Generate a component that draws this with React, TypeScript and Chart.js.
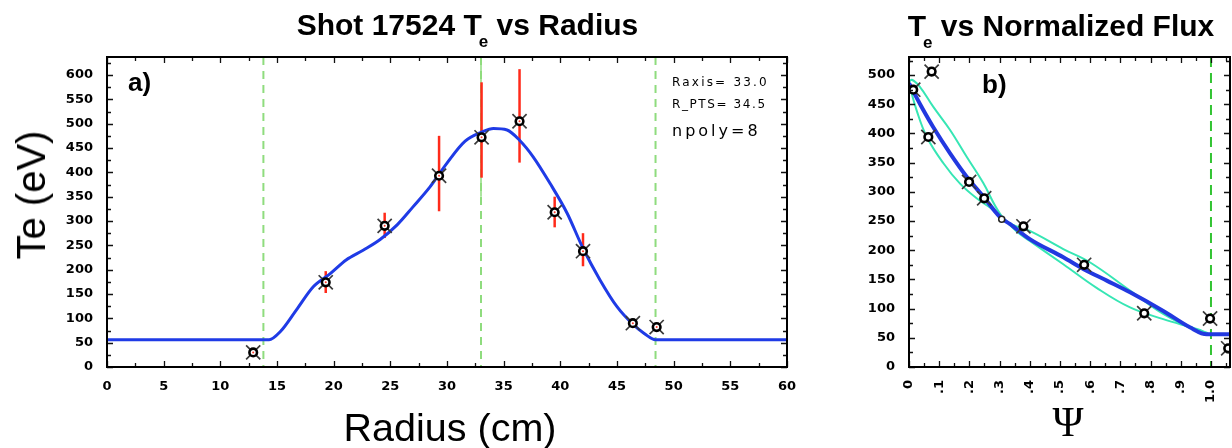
import React, { useEffect, useRef } from "react";
import { Chart, registerables } from "chart.js";

Chart.register(...registerables);

// ---- Panel a): Te vs radius ----
const radiusCm = [12.9, 19.3, 24.5, 29.3, 33.05, 36.4, 39.5, 42.0, 46.4, 48.5];
const teRadius = [30, 174, 290, 393, 472, 505, 318, 238, 90, 82];
const errPlus = [0, 23, 27, 82, 113, 107, 32, 37, 0, 0];
const errMinus = [0, 22, 25, 73, 83, 85, 31, 31, 0, 0];

// npoly=8 fit, sampled along the radius
const fitRadius = [0, 14.3, 15.3, 16.7, 18.2, 19.7, 21.1, 22.6, 24.1, 25.6, 27.0, 28.5, 30.0, 31.6, 33.1, 34.1, 35.3, 36.4, 37.6, 39.1, 40.6, 42.0, 43.5, 45.0, 46.4, 47.4, 48.4, 60];
const fitTeRadius = [56, 56, 73, 117, 165, 192, 220, 240, 262, 292, 329, 370, 419, 464, 483, 490, 487, 466, 432, 377, 316, 244, 179, 124, 88, 69, 56, 56];

const radiusMarkers = [13.8, 33.0, 48.4];
const radiusTicks = [0, 5, 10, 15, 20, 25, 30, 35, 40, 45, 50, 55, 60];
const teTicksA = [0, 50, 100, 150, 200, 250, 300, 350, 400, 450, 500, 550, 600];

// ---- Panel b): Te vs normalized flux ----
const psiPoints = [0.014, 0.064, 0.075, 0.199, 0.249, 0.379, 0.58, 0.779, 0.997, 1.057];
const tePsi = [475, 394, 506, 317, 289, 241, 175, 92, 83, 32];
const psiExtra = [0.307];
const teExtra = [253];

const fitPsi = [0, 0.04, 0.08, 0.136, 0.191, 0.246, 0.301, 0.334, 0.4, 0.511, 0.577, 0.655, 0.732, 0.842, 0.93, 0.986, 1.063];
const fitTePsi = [486, 447, 411, 366, 326, 292, 257, 245, 219, 188, 168, 148, 128, 96, 68, 56, 56];

const bandPsiA = [0, 0.009, 0.036, 0.08, 0.136, 0.191, 0.246, 0.301, 0.357, 0.4, 0.511, 0.62, 0.732, 0.842, 0.953, 0.99];
const bandTeA = [488, 492, 480, 446, 406, 360, 315, 263, 232, 216, 176, 136, 102, 82, 65, 58];
const bandPsiB = [0, 0.003, 0.025, 0.059, 0.114, 0.169, 0.224, 0.279, 0.334, 0.4, 0.511, 0.6, 0.732, 0.842, 0.953, 0.99];
const bandTeB = [488, 480, 440, 394, 349, 314, 289, 269, 246, 233, 202, 179, 131, 91, 62, 57];

const psiMarkers = [1.0];
const psiTicks = [0, 0.1, 0.2, 0.3, 0.4, 0.5, 0.6, 0.7, 0.8, 0.9, 1.0];
const psiTickLabels = ["0", ".1", ".2", ".3", ".4", ".5", ".6", ".7", ".8", ".9", "1.0"];
const teTicksB = [0, 50, 100, 150, 200, 250, 300, 350, 400, 450, 500];

const zip = (xs: number[], ys: number[]) => xs.map((x, i) => ({ x, y: ys[i] }));

const TICK_FONT = { family: "'DejaVu Sans', sans-serif", weight: "bold" as const, size: 13 };

function frameTicksPlugin(xStep: number, yStep: number) {
  return {
    id: "frameTicks",
    afterDraw(chart: any) {
      const { ctx, chartArea: a, scales } = chart;
      const xs = scales.x;
      const ys = scales.y;
      ctx.save();
      ctx.strokeStyle = "#111";
      ctx.lineWidth = 1.3;
      ctx.beginPath();
      const nx = Math.floor((xs.max + 1e-9) / xStep);
      for (let i = 0; i <= nx; i++) {
        const px = Math.round(xs.getPixelForValue(i * xStep)) + 0.5;
        const len = i % 2 === 0 ? 6 : 4;
        ctx.moveTo(px, a.bottom);
        ctx.lineTo(px, a.bottom - len);
        ctx.moveTo(px, a.top);
        ctx.lineTo(px, a.top + len);
      }
      const ny = Math.floor((ys.max + 1e-9) / yStep);
      for (let i = 0; i <= ny; i++) {
        const py = Math.round(ys.getPixelForValue(i * yStep)) + 0.5;
        const len = i % 2 === 0 ? 6 : 4;
        ctx.moveTo(a.left, py);
        ctx.lineTo(a.left + len, py);
        ctx.moveTo(a.right, py);
        ctx.lineTo(a.right - len, py);
      }
      ctx.stroke();
      ctx.lineWidth = 2;
      ctx.strokeStyle = "#000";
      ctx.strokeRect(a.left, a.top, a.right - a.left, a.bottom - a.top);
      ctx.restore();
    },
  };
}

function refLinesPlugin(values: number[], color: string, dash: number[], solidTopTo?: { x: number; y: number }) {
  return {
    id: "refLines",
    beforeDatasetsDraw(chart: any) {
      const { ctx, chartArea: a, scales } = chart;
      ctx.save();
      ctx.strokeStyle = color;
      ctx.lineWidth = 2;
      ctx.setLineDash(dash);
      values.forEach((v) => {
        const px = scales.x.getPixelForValue(v);
        ctx.beginPath();
        ctx.moveTo(px, a.top);
        ctx.lineTo(px, a.bottom);
        ctx.stroke();
      });
      if (solidTopTo) {
        ctx.setLineDash([]);
        ctx.lineWidth = 1.5;
        const px = scales.x.getPixelForValue(solidTopTo.x);
        ctx.beginPath();
        ctx.moveTo(px, a.top);
        ctx.lineTo(px, scales.y.getPixelForValue(solidTopTo.y));
        ctx.stroke();
      }
      ctx.restore();
    },
  };
}

const errorBarsPlugin = {
  id: "errorBars",
  beforeDatasetsDraw(chart: any) {
    const { ctx, scales } = chart;
    ctx.save();
    ctx.strokeStyle = "#ff2a1a";
    ctx.lineWidth = 2.5;
    radiusCm.forEach((r, i) => {
      if (!errPlus[i] && !errMinus[i]) return;
      const px = scales.x.getPixelForValue(r);
      ctx.beginPath();
      ctx.moveTo(px, scales.y.getPixelForValue(teRadius[i] + errPlus[i]));
      ctx.lineTo(px, scales.y.getPixelForValue(teRadius[i] - errMinus[i]));
      ctx.stroke();
    });
    ctx.restore();
  },
};

function markerDatasets(points: { x: number; y: number }[], dotColor: string) {
  return [
    {
      data: points,
      showLine: false,
      pointStyle: "circle",
      pointRadius: 3.8,
      pointBorderWidth: 2.6,
      pointBorderColor: "#000",
      pointBackgroundColor: "#fff",
      order: 0,
    },
    {
      data: points,
      showLine: false,
      pointStyle: "circle",
      pointRadius: 1,
      pointBorderWidth: 0,
      pointBackgroundColor: dotColor,
      order: -1,
    },
    {
      data: points,
      showLine: false,
      pointStyle: "crossRot",
      pointRadius: 10,
      pointBorderWidth: 1.7,
      pointBorderColor: "#3a3a3a",
      order: 1,
    },
  ];
}

function baseScales(opts: {
  xMin: number; xMax: number; yMax: number; xTicks: number[]; yTicks: number[];
  xHeight: number; yWidth: number; rotate: boolean; xLabels?: string[];
}) {
  return {
    x: {
      type: "linear" as const,
      min: opts.xMin,
      max: opts.xMax,
      afterBuildTicks: (s: any) => { s.ticks = opts.xTicks.map((v) => ({ value: v })); },
      afterFit: (s: any) => {
        s.height = opts.xHeight;
        s.paddingLeft = 0;
        s.paddingRight = 0;
      },
      grid: { display: false, drawTicks: false },
      border: { display: false },
      ticks: {
        font: TICK_FONT,
        color: "#000",
        padding: opts.rotate ? 13 : 12,
        autoSkip: false,
        minRotation: opts.rotate ? 90 : 0,
        maxRotation: opts.rotate ? 90 : 0,
        callback: (v: any, i: number) => (opts.xLabels ? opts.xLabels[i] : String(v)),
      },
    },
    y: {
      type: "linear" as const,
      min: 0,
      max: opts.yMax,
      afterBuildTicks: (s: any) => { s.ticks = opts.yTicks.map((v) => ({ value: v })); },
      afterFit: (s: any) => {
        s.width = opts.yWidth;
        s.paddingTop = 0;
        s.paddingBottom = 0;
      },
      grid: { display: false, drawTicks: false },
      border: { display: false },
      ticks: { font: TICK_FONT, color: "#000", padding: 14, callback: (v: any) => String(v) },
    },
  };
}

function RadiusChart() {
  const ref = useRef<HTMLCanvasElement>(null);
  useEffect(() => {
    const pts = zip(radiusCm, teRadius);
    const chart = new Chart(ref.current!, {
      type: "line",
      data: {
        datasets: [
          ...markerDatasets(pts, "#ff3a2a"),
          {
            data: zip(fitRadius, fitTeRadius),
            borderColor: "#1f3be6",
            borderWidth: 3,
            pointRadius: 0,
            cubicInterpolationMode: "monotone",
            order: 2,
          },
        ] as any,
      },
      options: {
        animation: false,
        responsive: false,
        maintainAspectRatio: false,
        layout: { autoPadding: false, padding: { left: 0, right: 13, top: 57, bottom: 0 } },
        plugins: { legend: { display: false }, tooltip: { enabled: false }, title: { display: false } },
        scales: baseScales({
          xMin: 0, xMax: 60, yMax: 637, xTicks: radiusTicks, yTicks: teTicksA,
          xHeight: 81, yWidth: 107, rotate: false,
        }) as any,
      },
      plugins: [
        refLinesPlugin(radiusMarkers, "#8fdc7e", [8, 6], { x: 33.0, y: 350 }),
        errorBarsPlugin,
        frameTicksPlugin(2.5, 25),
      ],
    });
    return () => chart.destroy();
  }, []);
  return <canvas ref={ref} width={800} height={448} style={{ position: "absolute", left: 0, top: 0 }} />;
}

function FluxChart() {
  const ref = useRef<HTMLCanvasElement>(null);
  useEffect(() => {
    const pts = zip(psiPoints, tePsi);
    const chart = new Chart(ref.current!, {
      type: "line",
      data: {
        datasets: [
          ...markerDatasets(pts, "#ffffff"),
          {
            data: zip(psiExtra, teExtra),
            showLine: false,
            pointStyle: "circle",
            pointRadius: 3,
            pointBorderWidth: 1.5,
            pointBorderColor: "#222",
            pointBackgroundColor: "#fff",
            order: 0,
          },
          {
            data: zip(fitPsi, fitTePsi),
            borderColor: "#2238e0",
            borderWidth: 4,
            pointRadius: 0,
            cubicInterpolationMode: "monotone",
            order: 2,
          },
          {
            data: zip(bandPsiA, bandTeA),
            borderColor: "#36e6b4",
            borderWidth: 2,
            pointRadius: 0,
            tension: 0.4,
            order: 3,
          },
          {
            data: zip(bandPsiB, bandTeB),
            borderColor: "#36e6b4",
            borderWidth: 2,
            pointRadius: 0,
            tension: 0.4,
            order: 3,
          },
        ] as any,
      },
      options: {
        animation: false,
        responsive: false,
        maintainAspectRatio: false,
        layout: { autoPadding: false, padding: { left: 0, right: 2, top: 57, bottom: 0 } },
        plugins: { legend: { display: false }, tooltip: { enabled: false }, title: { display: false } },
        scales: baseScales({
          xMin: 0, xMax: 1.063, yMax: 531, xTicks: psiTicks, yTicks: teTicksB,
          xHeight: 81, yWidth: 79, rotate: true, xLabels: psiTickLabels,
        }) as any,
      },
      plugins: [refLinesPlugin(psiMarkers, "#33c433", [10, 6]), frameTicksPlugin(0.05, 25)],
    });
    return () => chart.destroy();
  }, []);
  return <canvas ref={ref} width={402} height={448} style={{ position: "absolute", left: 830, top: 0 }} />;
}

const sans = "'Liberation Sans', Arial, Helvetica, sans-serif";

const abs = (s: React.CSSProperties): React.CSSProperties => ({ position: "absolute", whiteSpace: "nowrap", color: "#000", ...s });

export default function App() {
  return (
    <div style={{ position: "fixed", left: 0, top: 0, width: 1232, height: 448, background: "#fff", overflow: "hidden" }}>
      <RadiusChart />
      <FluxChart />

      <div style={abs({ left: 0, width: 935, top: 10, textAlign: "center", font: `bold 30px ${sans}`, lineHeight: "30px" })}>
        Shot 17524 T<span style={{ fontSize: 17, position: "relative", top: 12, marginLeft: -3 }}>e</span> vs Radius
      </div>
      <div style={abs({ left: 904, width: 314, top: 11, textAlign: "center", font: `bold 30px ${sans}`, lineHeight: "30px" })}>
        T<span style={{ fontSize: 17, position: "relative", top: 12, marginLeft: -3 }}>e</span> vs Normalized Flux
      </div>

      <div style={abs({ left: 128, top: 69, font: `bold 26px ${sans}`, lineHeight: "26px" })}>a)</div>
      <div style={abs({ left: 982, top: 71, font: `bold 26px ${sans}`, lineHeight: "26px" })}>b)</div>

      <div style={abs({ left: 672, top: 76, font: `12px 'DejaVu Sans', sans-serif`, lineHeight: "12px", letterSpacing: 2.2 })}>Raxis= 33.0</div>
      <div style={abs({ left: 672, top: 98, font: `12px 'DejaVu Sans', sans-serif`, lineHeight: "12px", letterSpacing: 1.6 })}>R_PTS= 34.5</div>
      <div style={abs({ left: 672, top: 123, font: `16px 'DejaVu Sans', sans-serif`, lineHeight: "16px", letterSpacing: 3 })}>npoly=8</div>

      <div
        style={abs({
          left: 31, top: 195, font: `40px ${sans}`, lineHeight: "40px",
          transform: "translate(-50%, -50%) rotate(-90deg)",
        })}
      >
        Te (eV)
      </div>
      <div style={abs({ left: 250, width: 400, top: 407, textAlign: "center", font: `39.5px ${sans}`, lineHeight: "40px" })}>
        Radius (cm)
      </div>
      <div style={abs({ left: 1018, width: 100, top: 401, textAlign: "center", font: `42px 'Liberation Serif', serif`, lineHeight: "42px" })}>
        Ψ
      </div>
    </div>
  );
}
